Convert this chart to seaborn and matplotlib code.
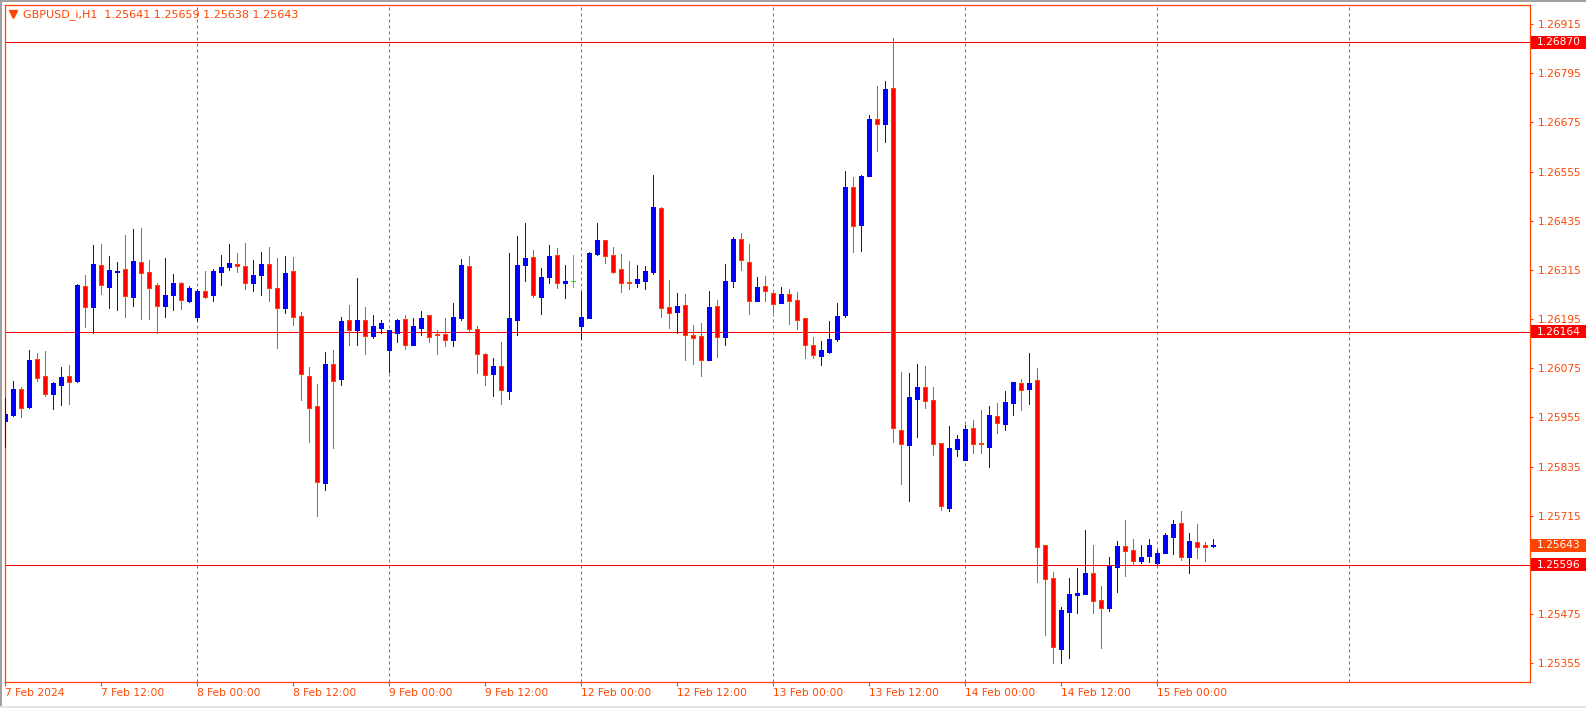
import numpy as np
import pandas as pd
import matplotlib
matplotlib.use("Agg")
import matplotlib.pyplot as plt
import matplotlib.transforms as mtransforms
import matplotlib.patches as mpatches
from matplotlib.lines import Line2D
import seaborn as sns

# ---------------- data ----------------
chart_title = "GBPUSD_i,H1  1.25641 1.25659 1.25638 1.25643"

open_ = [
    1.25947, 1.25961, 1.26025, 1.25981, 1.26098, 1.26056, 1.26013, 1.26035, 1.26056, 1.26044,
    1.26276, 1.26225, 1.26327, 1.26274, 1.26310, 1.26317, 1.26250, 1.26334, 1.26310, 1.26278,
    1.26228, 1.26255, 1.26283, 1.26239, 1.26201, 1.26264, 1.26255, 1.26311, 1.26321, 1.26329,
    1.26325, 1.26282, 1.26303, 1.26329, 1.26271, 1.26223, 1.26312, 1.26203, 1.26056, 1.25983,
    1.25794, 1.26086, 1.26050, 1.26193, 1.26169, 1.26193, 1.26153, 1.26174, 1.26120, 1.26162,
    1.26195, 1.26133, 1.26174, 1.26205, 1.26159, 1.26159, 1.26145, 1.26198, 1.26325, 1.26171,
    1.26110, 1.26062, 1.26081, 1.26020, 1.26194, 1.26328, 1.26347, 1.26250, 1.26298, 1.26351,
    1.26284, 1.26288, 1.26179, 1.26198, 1.26355, 1.26388, 1.26351, 1.26317, 1.26286, 1.26282,
    1.26289, 1.26311, 1.26466, 1.26225, 1.26213, 1.26229, 1.26156, 1.26154, 1.26096, 1.26227,
    1.26152, 1.26289, 1.26390, 1.26334, 1.26240, 1.26276, 1.26259, 1.26235, 1.26256, 1.26242,
    1.26198, 1.26132, 1.26106, 1.26115, 1.26147, 1.26205, 1.26517, 1.26425, 1.26543, 1.26683,
    1.26672, 1.26759, 1.25924, 1.25889, 1.26001, 1.26029, 1.25998, 1.25893, 1.25734, 1.25877,
    1.25852, 1.25929, 1.25893, 1.25884, 1.25959, 1.25940, 1.25991, 1.26039, 1.26025, 1.26046,
    1.25643, 1.25563, 1.25391, 1.25481, 1.25523, 1.25525, 1.25576, 1.25510, 1.25491, 1.25591,
    1.25641, 1.25632, 1.25606, 1.25618, 1.25601, 1.25625, 1.25664, 1.25698, 1.25615, 1.25651,
    1.25643, 1.25641,
]
high = [
    1.26002, 1.26044, 1.26030, 1.26120, 1.26113, 1.26117, 1.26042, 1.26078, 1.26083, 1.26281,
    1.26303, 1.26376, 1.26378, 1.26349, 1.26334, 1.26400, 1.26415, 1.26417, 1.26339, 1.26283,
    1.26344, 1.26305, 1.26286, 1.26276, 1.26268, 1.26312, 1.26317, 1.26351, 1.26378, 1.26356,
    1.26381, 1.26339, 1.26359, 1.26371, 1.26344, 1.26349, 1.26347, 1.26212, 1.26078, 1.26037,
    1.26115, 1.26120, 1.26199, 1.26229, 1.26295, 1.26225, 1.26205, 1.26193, 1.26168, 1.26195,
    1.26205, 1.26198, 1.26215, 1.26205, 1.26168, 1.26198, 1.26234, 1.26342, 1.26349, 1.26178,
    1.26112, 1.26100, 1.26139, 1.26357, 1.26398, 1.26430, 1.26364, 1.26320, 1.26376, 1.26369,
    1.26327, 1.26351, 1.26260, 1.26359, 1.26430, 1.26388, 1.26371, 1.26354, 1.26337, 1.26327,
    1.26325, 1.26547, 1.26469, 1.26291, 1.26259, 1.26256, 1.26181, 1.26186, 1.26264, 1.26242,
    1.26330, 1.26395, 1.26405, 1.26378, 1.26298, 1.26300, 1.26261, 1.26274, 1.26269, 1.26261,
    1.26198, 1.26151, 1.26142, 1.26190, 1.26234, 1.26556, 1.26542, 1.26547, 1.26693, 1.26764,
    1.26776, 1.26881, 1.26066, 1.26064, 1.26086, 1.26081, 1.26029, 1.25893, 1.25934, 1.25912,
    1.25937, 1.25949, 1.25973, 1.25983, 1.25990, 1.26020, 1.26042, 1.26049, 1.26112, 1.26076,
    1.25643, 1.25577, 1.25493, 1.25563, 1.25588, 1.25680, 1.25644, 1.25544, 1.25615, 1.25654,
    1.25705, 1.25659, 1.25644, 1.25659, 1.25632, 1.25673, 1.25705, 1.25727, 1.25673, 1.25695,
    1.25651, 1.25659,
]
low = [
    1.25884, 1.25959, 1.25957, 1.25979, 1.26044, 1.26008, 1.25976, 1.25985, 1.25988, 1.26042,
    1.26176, 1.26160, 1.26257, 1.26221, 1.26217, 1.26200, 1.26227, 1.26195, 1.26195, 1.26162,
    1.26199, 1.26217, 1.26220, 1.26237, 1.26191, 1.26247, 1.26240, 1.26277, 1.26316, 1.26311,
    1.26269, 1.26264, 1.26255, 1.26240, 1.26125, 1.26211, 1.26181, 1.25998, 1.25896, 1.25715,
    1.25779, 1.25881, 1.26035, 1.26133, 1.26133, 1.26111, 1.26150, 1.26162, 1.26067, 1.26138,
    1.26123, 1.26133, 1.26157, 1.26138, 1.26111, 1.26130, 1.26130, 1.26193, 1.26167, 1.26064,
    1.26033, 1.26008, 1.25989, 1.26001, 1.26157, 1.26289, 1.26250, 1.26208, 1.26284, 1.26272,
    1.26247, 1.26274, 1.26147, 1.26198, 1.26352, 1.26333, 1.26308, 1.26262, 1.26269, 1.26274,
    1.26269, 1.26306, 1.26201, 1.26174, 1.26160, 1.26096, 1.26086, 1.26057, 1.26094, 1.26103,
    1.26133, 1.26274, 1.26316, 1.26208, 1.26238, 1.26238, 1.26213, 1.26235, 1.26184, 1.26172,
    1.26100, 1.26100, 1.26084, 1.26112, 1.26142, 1.26200, 1.26359, 1.26361, 1.26543, 1.26606,
    1.26627, 1.25895, 1.25793, 1.25751, 1.25907, 1.25979, 1.25864, 1.25729, 1.25728, 1.25862,
    1.25851, 1.25869, 1.25869, 1.25835, 1.25916, 1.25925, 1.25962, 1.25974, 1.25989, 1.25554,
    1.25425, 1.25356, 1.25356, 1.25369, 1.25479, 1.25525, 1.25479, 1.25393, 1.25484, 1.25530,
    1.25567, 1.25596, 1.25601, 1.25603, 1.25598, 1.25625, 1.25623, 1.25608, 1.25576, 1.25611,
    1.25606, 1.25638,
]
close = [
    1.25964, 1.26025, 1.25979, 1.26095, 1.26052, 1.26013, 1.26039, 1.26054, 1.26042, 1.26278,
    1.26225, 1.26329, 1.26277, 1.26315, 1.26312, 1.26252, 1.26337, 1.26308, 1.26272, 1.26228,
    1.26254, 1.26283, 1.26242, 1.26271, 1.26264, 1.26250, 1.26312, 1.26322, 1.26332, 1.26324,
    1.26284, 1.26303, 1.26329, 1.26272, 1.26223, 1.26308, 1.26201, 1.26060, 1.25979, 1.25798,
    1.26086, 1.26045, 1.26190, 1.26169, 1.26193, 1.26153, 1.26178, 1.26186, 1.26168, 1.26193,
    1.26133, 1.26178, 1.26198, 1.26152, 1.26155, 1.26145, 1.26200, 1.26327, 1.26172, 1.26109,
    1.26059, 1.26081, 1.26023, 1.26198, 1.26327, 1.26344, 1.26255, 1.26298, 1.26349, 1.26282,
    1.26288, 1.26288, 1.26200, 1.26356, 1.26388, 1.26350, 1.26311, 1.26284, 1.26282, 1.26293,
    1.26312, 1.26469, 1.26221, 1.26211, 1.26227, 1.26155, 1.26150, 1.26096, 1.26225, 1.26152,
    1.26288, 1.26390, 1.26338, 1.26240, 1.26273, 1.26264, 1.26233, 1.26256, 1.26240, 1.26194,
    1.26133, 1.26108, 1.26120, 1.26147, 1.26203, 1.26517, 1.26421, 1.26544, 1.26683, 1.26672,
    1.26756, 1.25930, 1.25891, 1.26005, 1.26029, 1.25996, 1.25891, 1.25740, 1.25881, 1.25903,
    1.25927, 1.25891, 1.25891, 1.25961, 1.25942, 1.25993, 1.26041, 1.26023, 1.26039, 1.25638,
    1.25562, 1.25394, 1.25485, 1.25524, 1.25527, 1.25576, 1.25508, 1.25491, 1.25593, 1.25641,
    1.25630, 1.25606, 1.25615, 1.25644, 1.25624, 1.25668, 1.25695, 1.25615, 1.25654, 1.25638,
    1.25640, 1.25643,
]

time_tick_bars = [0, 12, 24, 36, 48, 60, 72, 84, 96, 108, 120, 132, 144]
time_tick_labels = ["7 Feb 2024", "7 Feb 12:00", "8 Feb 00:00", "8 Feb 12:00",
                    "9 Feb 00:00", "9 Feb 12:00", "12 Feb 00:00", "12 Feb 12:00",
                    "13 Feb 00:00", "13 Feb 12:00", "14 Feb 00:00", "14 Feb 12:00",
                    "15 Feb 00:00"]
day_grid_bars = [24, 48, 72, 96, 120, 144, 168]
price_ticks = [1.25355, 1.25475, 1.25715, 1.25835, 1.25955, 1.26075,
               1.26195, 1.26315, 1.26435, 1.26555, 1.26675, 1.26795, 1.26915]
level_prices = [1.26870, 1.26164, 1.25596]
bid_price = 1.25643

# ---------------- style ----------------
AXIS_COL = "#FF4500"
BULL = "#0000FF"
BEAR_FILL = "#FF0000"
BEAR_EDGE = "#FF4500"
DOJI = "#22DD22"
LEVEL_COL = "#FF0000"
FS = 7.7
PX = 0.72  # one pixel in points at 100 dpi

sns.set_theme(style="white")
plt.rcParams["font.family"] = ["DejaVu Sans"]

df = pd.DataFrame({"open": open_, "high": high, "low": low, "close": close})
df["bar"] = np.arange(len(df))
df["kind"] = np.where(df["close"] > df["open"], "bull",
                      np.where(df["close"] < df["open"], "bear", "doji"))

W, H = 1586, 708
fig = plt.figure(figsize=(W / 100, H / 100), dpi=100)
fig.patch.set_facecolor("white")
ax_l, ax_r, ax_t, ax_b = 4.7, 1529.6, 4.7, 681.7
ax = fig.add_axes([ax_l / W, 1 - ax_b / H, (ax_r - ax_l) / W, (ax_b - ax_t) / H])
ax.set_facecolor("white")

# scales
ax.set_xlim(-0.0875, 190.52)
ax.set_ylim(1.253103, 1.269621)

# day separators
for b in day_grid_bars:
    ax.axvline(b, color=AXIS_COL, lw=PX, ls=(0, (3, 3)), zorder=1)

# level lines
for lv in level_prices:
    ax.axhline(lv, color=LEVEL_COL, lw=PX, zorder=2, antialiased=False)

# candles
wick_cols = df["kind"].map({"bull": BULL, "bear": BEAR_EDGE, "doji": DOJI})
ax.vlines(df["bar"], df["low"], df["high"], colors=list(wick_cols), lw=PX,
          zorder=3, antialiased=False)
body_bottom = np.minimum(df["open"], df["close"])
body_height = np.abs(df["close"] - df["open"])
fills = df["kind"].map({"bull": BULL, "bear": BEAR_FILL, "doji": DOJI})
edges = df["kind"].map({"bull": BULL, "bear": BEAR_EDGE, "doji": DOJI})
ax.bar(df["bar"], body_height, bottom=body_bottom, width=0.5,
       color=list(fills), edgecolor=list(edges), linewidth=PX, zorder=4,
       antialiased=False)

# spines
for s in ax.spines.values():
    s.set_visible(True)
    s.set_color(AXIS_COL)
    s.set_linewidth(0.9)

# x axis
ax.set_xticks(time_tick_bars)
ax.set_xticklabels(time_tick_labels, ha="left", color=AXIS_COL, fontsize=FS)
ax.tick_params(axis="x", which="both", bottom=True, top=False, direction="out",
               length=3, width=0.8, color=AXIS_COL, pad=1.5)

# y axis on the right
ax.yaxis.tick_right()
ax.set_yticks(price_ticks)
ax.set_yticklabels([f"{p:.5f}" for p in price_ticks], color=AXIS_COL, fontsize=FS)
ax.tick_params(axis="y", which="both", right=True, left=False, direction="out",
               length=2.5, width=0.8, color=AXIS_COL, pad=3.5)
ax.grid(False)

# price labels on the right axis
blend = mtransforms.blended_transform_factory(ax.transAxes, ax.transData)
axw = ax_r - ax_l
box_x0 = (1531 - ax_l) / axw
box_w = (W - 1531) / axw
box_h = 13 * (1.269621 - 1.253103) / (ax_b - ax_t)
txt_x = (1536.5 - ax_l) / axw
for lv, col in [(level_prices[0], LEVEL_COL), (level_prices[1], LEVEL_COL),
                (level_prices[2], LEVEL_COL), (bid_price, AXIS_COL)]:
    rect = mpatches.Rectangle((box_x0, lv - box_h / 2), box_w, box_h,
                              transform=blend, facecolor=col, edgecolor="none",
                              clip_on=False, zorder=5)
    ax.add_patch(rect)
    ax.text(txt_x, lv, f"{lv:.5f}", transform=blend, color="white", fontsize=FS,
            ha="left", va="center", clip_on=False, zorder=6)

# chart title and marker
ax.text((23.3 - ax_l) / axw, 1 - (15 - ax_t) / (ax_b - ax_t), chart_title,
        transform=ax.transAxes, color=AXIS_COL, fontsize=8, ha="left", va="center")
ax.plot([(12.5 - ax_l) / axw], [1 - (14.3 - ax_t) / (ax_b - ax_t)], marker="v",
        ms=5.5, color=AXIS_COL, mec=AXIS_COL, transform=ax.transAxes, clip_on=False)

# window frame lines
fig.add_artist(Line2D([1 / W, 1 / W], [0, 1], color="#A0A0A0", lw=1.44))
fig.add_artist(Line2D([0, 1], [1 - 1 / H, 1 - 1 / H], color="#A0A0A0", lw=1.44))
fig.add_artist(Line2D([0, 1], [1.5 / H, 1.5 / H], color="#E3E3E3", lw=1.44))

fig.savefig("out.png", dpi=100, facecolor="white")
